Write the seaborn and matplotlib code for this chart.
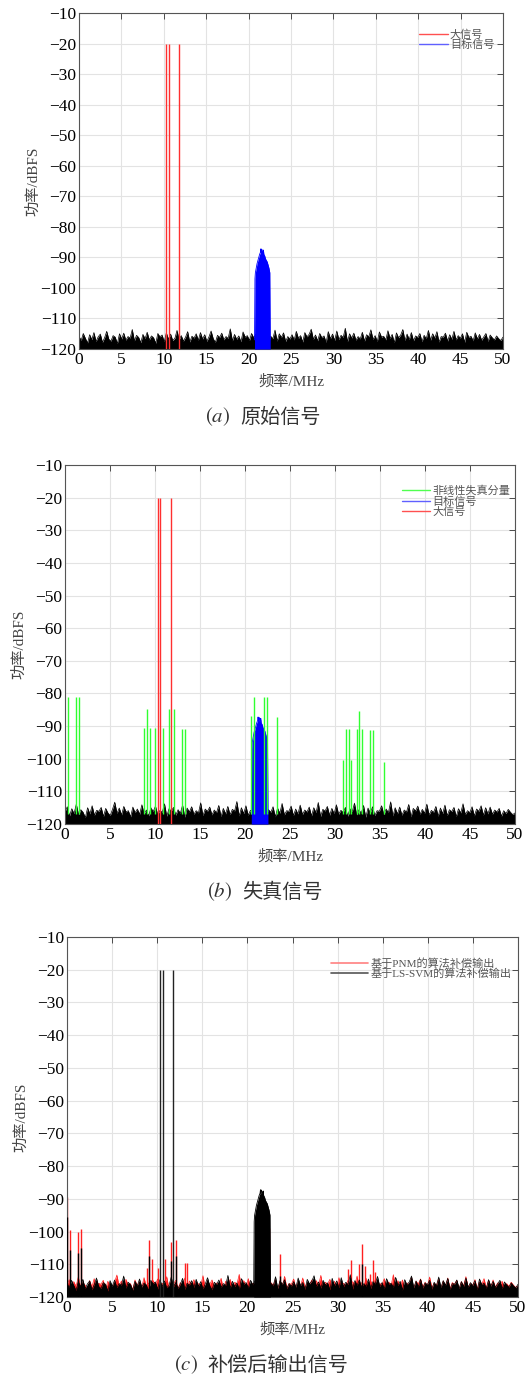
import matplotlib
matplotlib.use("Agg")
import matplotlib.pyplot as plt
import seaborn as sns
import numpy as np
import pandas as pd

# large interferers (MHz, dBFS)
big_freq = [10.3, 10.6, 11.8]
big_level = [-20, -20, -20]

# target signal envelope (MHz, dBFS)
target_freq = [20.7, 20.75, 20.8, 20.9, 21.0, 21.1, 21.2, 21.3, 21.4, 21.45, 21.5, 21.55,
               21.6, 21.7, 21.75, 21.8, 21.9, 22.0, 22.1, 22.2, 22.3, 22.4, 22.5, 22.55]
target_level = [-117, -97, -95, -93.5, -92, -91, -90, -89, -88.3, -87.2, -88.5, -87.3,
                 -87.8, -88.4, -87.6, -89, -89.5, -90.5, -91, -91.5, -92.5, -93.5, -95, -117]

# nonlinear distortion components, panel (b)
dist_freq = [0.3, 1.22, 1.52, 8.78, 9.11, 9.44, 10.0, 10.93, 11.56, 12.07, 13.0, 13.3,
             20.63, 20.96, 22.07, 22.4, 23.6, 30.9, 31.2, 31.5, 31.8, 32.4, 32.7, 33.0,
             33.85, 34.2, 35.4]
dist_level = [-81, -81, -81, -90.7, -84.7, -90.7, -90.7, -90.7, -84.7, -84.7, -91, -91,
              -87, -81.2, -81.2, -81.2, -87.3, -100.5, -91, -91, -100.5, -91, -85.3, -91,
              -91.3, -91.3, -101]

# residual spurs after compensation, panel (c)
pnm_freq = [0.04, 0.3, 1.22, 1.52, 8.85, 9.14, 9.44, 10.07, 10.92, 11.55, 12.14, 13.03,
            13.32, 22.35, 23.6, 31.2, 31.5, 32.4, 32.7, 33.0, 33.6, 33.9, 34.2]
pnm_level = [-89.5, -99.5, -100, -99.3, -111, -102.5, -108.5, -111, -108.5, -103.3, -102.5,
             -109.5, -109.5, -99, -107, -111.5, -108.7, -110, -103.8, -110.5, -113, -108.8, -112.5]
svm_freq = [0.04, 0.3, 1.22, 1.52, 9.14, 11.55, 12.14, 23.6, 32.7]
svm_level = [-95.5, -105.5, -106.5, -105, -107.5, -109, -107.5, -113.5, -110]

# noise floor top (200 bins over 0-50 MHz)
noise_1 = [
    -115.8, -117.2, -114.9, -116.5, -118.0, -115.3, -116.9, -114.6, -117.5, -116.0,
    -115.1, -117.8, -116.3, -114.2, -116.8, -117.4, -115.6, -116.1, -118.2, -115.0,
    -116.7, -114.8, -117.1, -115.9, -116.4, -113.6, -117.3, -115.5, -116.2, -117.9,
    -115.2, -116.6, -114.5, -117.0, -115.7, -116.3, -118.1, -114.9, -116.0, -115.4,
    -117.6, -114.7, -116.8, -115.1, -117.2, -116.5, -113.9, -116.9, -115.6, -117.4,
    -116.1, -114.3, -117.7, -115.8, -116.4, -115.0, -117.1, -114.6, -116.7, -115.3,
    -117.5, -116.0, -114.1, -116.6, -117.8, -115.5, -116.2, -114.8, -117.0, -115.9,
    -116.5, -113.4, -117.3, -115.2, -116.8, -115.7, -117.6, -114.4, -116.1, -115.6,
    -117.2, -114.9, -116.3, -115.1, -117.9, -116.4, -114.0, -116.9, -115.4, -117.1,
    -115.8, -116.6, -113.8, -117.4, -115.0, -116.2, -114.7, -117.5, -115.9, -116.7,
    -115.3, -117.0, -114.2, -116.5, -115.6, -117.7, -114.6, -116.0, -115.2, -113.5,
    -116.8, -115.4, -117.3, -114.9, -116.3, -115.7, -117.8, -114.3, -116.6, -115.1,
    -117.2, -114.1, -116.9, -115.5, -116.2, -113.2, -117.6, -115.0, -116.4, -114.8,
    -117.1, -115.9, -116.7, -114.5, -117.4, -115.3, -116.0, -113.7, -116.8, -115.6,
    -117.5, -114.4, -116.1, -115.8, -117.0, -114.0, -116.5, -115.2, -117.9, -114.7,
    -116.3, -115.4, -113.6, -117.2, -115.1, -116.9, -114.6, -117.3, -115.7, -116.2,
    -114.9, -117.6, -115.5, -116.6, -113.9, -117.1, -115.0, -116.4, -114.3, -117.7,
    -115.9, -116.1, -114.8, -117.4, -115.3, -116.8, -114.2, -117.0, -115.6, -116.5,
    -115.0, -117.8, -114.5, -116.2, -115.8, -117.3, -114.7, -116.7, -115.2, -117.1,
    -116.0, -114.9, -117.5, -115.4, -116.3, -117.0, -115.7, -116.6, -117.2, -116.1,
]
noise_2 = [
    -116.2, -114.7, -117.5, -115.3, -116.8, -113.9, -117.1, -115.6, -116.4, -118.0,
    -115.0, -116.9, -114.4, -117.3, -115.8, -116.1, -114.9, -117.7, -115.2, -116.6,
    -117.4, -115.5, -113.3, -116.7, -115.1, -117.2, -114.6, -116.3, -115.9, -117.8,
    -114.8, -116.5, -115.4, -117.0, -114.1, -116.8, -115.7, -117.5, -115.0, -116.2,
    -114.5, -117.1, -115.8, -116.4, -113.8, -117.6, -115.3, -116.0, -114.9, -117.3,
    -115.6, -116.7, -114.2, -117.9, -115.1, -116.3, -114.7, -117.0, -115.9, -116.6,
    -113.5, -117.4, -115.4, -116.1, -114.8, -117.2, -115.7, -116.5, -114.3, -117.7,
    -115.2, -116.9, -114.6, -117.1, -115.5, -116.0, -113.1, -117.5, -115.0, -116.8,
    -114.4, -117.3, -115.8, -116.2, -114.9, -117.6, -115.3, -116.6, -114.0, -117.0,
    -115.6, -116.4, -114.7, -117.8, -115.1, -116.7, -113.7, -117.2, -115.9, -116.1,
    -114.5, -117.4, -115.4, -116.9, -114.2, -117.1, -115.7, -116.3, -114.8, -117.5,
    -115.0, -116.5, -113.4, -117.7, -115.5, -116.0, -114.6, -117.3, -115.2, -116.8,
    -114.1, -117.0, -115.8, -116.4, -114.9, -117.6, -115.3, -116.2, -113.6, -117.2,
    -115.6, -116.7, -114.3, -117.9, -115.1, -116.6, -114.7, -117.4, -115.9, -116.1,
    -114.4, -117.1, -115.4, -116.5, -113.2, -117.5, -115.0, -116.9, -114.8, -117.3,
    -115.7, -116.3, -114.0, -117.8, -115.2, -116.0, -114.5, -117.0, -115.5, -116.7,
    -113.9, -117.2, -115.8, -116.4, -114.6, -117.6, -115.1, -116.8, -114.2, -117.4,
    -115.6, -116.2, -114.9, -117.7, -115.3, -116.6, -113.8, -117.1, -115.9, -116.5,
    -114.7, -117.5, -115.4, -116.1, -114.4, -117.3, -115.0, -116.9, -114.8, -117.0,
    -115.7, -116.3, -115.2, -117.6, -115.9, -116.8, -115.5, -116.4, -117.1, -116.6,
]
noise_freq = np.linspace(0, 50, len(noise_1))

sns.set_style("white")
plt.rcParams['font.family'] = ['Liberation Serif', 'Noto Sans CJK SC']
plt.rcParams['mathtext.fontset'] = 'stix'
plt.rcParams['axes.unicode_minus'] = True

fig = plt.figure(figsize=(5.25, 13.78), dpi=100)
boxes = [
    [0.1505, 0.7467, 0.8075, 0.2439],
    [0.1238, 0.4020, 0.8572, 0.2606],
    [0.1276, 0.0588, 0.8591, 0.2612],
]
captions = ["原始信号", "失真信号", "补偿后输出信号"]
letters = ["a", "b", "c"]
cap_y = [0.6974, 0.3527, 0.0094]
cap_split = [(230, 240), (232, 242), (198, 207)]


def draw_noise(ax, values, color):
    df = pd.DataFrame({"f": noise_freq, "p": values})
    ax.fill_between(df["f"], -120, df["p"], color=color, lw=0, zorder=2)
    sns.lineplot(data=df, x="f", y="p", ax=ax, color=color, lw=0.5, zorder=2)


def draw_target(ax, color, z):
    df = pd.DataFrame({"f": target_freq, "p": target_level})
    ax.fill_between(df["f"], -120, df["p"], color=color, lw=0, zorder=z)
    sns.lineplot(data=df, x="f", y="p", ax=ax, color=color, lw=0.6, zorder=z)


def style_axes(ax):
    ax.set_xlim(0, 50)
    ax.set_ylim(-120, -10)
    ax.set_xticks(range(0, 51, 5))
    ax.set_yticks(range(-120, -9, 10))
    ax.grid(True, color='#e3e3e3', lw=0.8, zorder=0)
    ax.set_axisbelow(True)
    ax.tick_params(direction='in', top=True, right=True, length=4, width=0.6,
                   labelsize=12.5, colors='#333333', labelcolor='black', pad=2)
    for s in ax.spines.values():
        s.set_color('#555555')
        s.set_linewidth(0.8)
    ax.set_xlabel("频率/MHz", fontsize=11, color='#444444', labelpad=5)
    ax.set_ylabel("功率/dBFS", fontsize=11, color='#444444', labelpad=0)


axes = [fig.add_axes(b) for b in boxes]
leg_kw = dict(loc='upper right', frameon=False, fontsize=8, handletextpad=0.2,
              labelspacing=0.0, labelcolor='#555555', borderaxespad=0)

# (a) original signal
ax = axes[0]
draw_noise(ax, noise_1, 'black')
ax.vlines(big_freq, -120, big_level, color='#ff3030', lw=1.0, zorder=3)
draw_target(ax, '#0000ff', 4)
style_axes(ax)
h = [plt.Line2D([], [], color='#ff5050', lw=1), plt.Line2D([], [], color='#6060ff', lw=1)]
ax.legend(h, ["大信号", "目标信号"], bbox_to_anchor=(0.99, 0.965), handlelength=2.6, **leg_kw)

# (b) distorted signal
ax = axes[1]
draw_noise(ax, noise_2, 'black')
ax.vlines(big_freq, -120, big_level, color='#ff3030', lw=1.0, zorder=3)
draw_target(ax, '#0000ff', 4)
ax.vlines(dist_freq, -117, dist_level, color='#30ff30', lw=1.0, zorder=5)
style_axes(ax)
h = [plt.Line2D([], [], color='#50ff50', lw=1), plt.Line2D([], [], color='#6060ff', lw=1),
     plt.Line2D([], [], color='#ff5050', lw=1)]
ax.legend(h, ["非线性失真分量", "目标信号", "大信号"], bbox_to_anchor=(1.0, 0.955),
          handlelength=2.6, **leg_kw)

# (c) compensated output
ax = axes[2]
draw_noise(ax, noise_2, '#ff2020')
ax.vlines(pnm_freq, -120, pnm_level, color='#ff2020', lw=1.0, zorder=2)
draw_noise(ax, noise_1, 'black')
ax.vlines(svm_freq, -120, svm_level, color='black', lw=1.0, zorder=3)
ax.vlines(big_freq, -120, big_level, color='#222222', lw=1.0, zorder=3)
draw_target(ax, 'black', 4)
style_axes(ax)
h = [plt.Line2D([], [], color='#ff8080', lw=1.2), plt.Line2D([], [], color='#555555', lw=1.2)]
ax.legend(h, ["基于PNM的算法补偿输出", "基于LS-SVM的算法补偿输出"], bbox_to_anchor=(0.995, 0.955),
          handlelength=3.3, **leg_kw)

for letter, cap, y, (xr, xl) in zip(letters, captions, cap_y, cap_split):
    fig.text(xr / 525, y, f"$({letter})$", ha='right', va='center', fontsize=15, color='#333333')
    fig.text(xl / 525, y, cap, ha='left', va='center', fontsize=14.5, color='#333333',
             family=['Noto Sans CJK SC'])

fig.savefig("out.png", dpi=100)
